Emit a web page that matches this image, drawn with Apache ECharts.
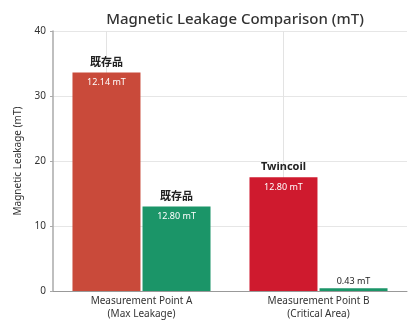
<!DOCTYPE html>
<html>
<head>
<meta charset="utf-8">
<script src="https://cdn.jsdelivr.net/npm/echarts@6/dist/echarts.min.js"></script>
<style>html,body{margin:0;padding:0;background:#fff}#c{width:408px;height:322px}</style>
</head>
<body>
<div id="c"></div>
<script>
const categories = ["Measurement Point A\n(Max Leakage)", "Measurement Point B\n(Critical Area)"];
const firstValues = [33.6, 17.5];
const secondValues = [13.0, 0.43];
const firstNames = ["既存品", "Twincoil"];
const secondNames = ["既存品", ""];
const firstValueText = ["12.14 mT", "12.80 mT"];
const secondValueText = ["12.80 mT", "0.43 mT"];
const firstColors = ["#c94a3a", "#cf1a2e"];
const secondColors = ["#1b9568", "#1b9568"];
const yTicks = [0, 10, 20, 30, 40];

const FONT = "'Noto Sans', 'Noto Sans CJK JP', sans-serif";

function insideLabel(name, text) {
  return {
    show: true, position: 'insideTop', distance: 0, offset: [0, -20],
    formatter: '{n|' + name + '}\n{v|' + text + '}',
    rich: {
      n: { fontFamily: FONT, fontSize: 11, fontWeight: 'bold', color: '#222', lineHeight: 20 },
      v: { fontFamily: FONT, fontSize: 9, color: '#ffffff', lineHeight: 20 }
    }
  };
}
function topLabel(text) {
  return { show: true, position: 'top', distance: 2, formatter: text,
    fontFamily: FONT, fontSize: 9, color: '#222' };
}

const chart = echarts.init(document.getElementById('c'));
chart.setOption({
  animation: false,
  backgroundColor: '#fff',
  textStyle: { fontFamily: FONT },
  title: {
    text: 'Magnetic Leakage Comparison (mT)',
    left: 230, top: 7, textAlign: 'center',
    textStyle: { fontFamily: FONT, fontSize: 15, fontWeight: 500, color: '#333' }
  },
  grid: { left: 53, right: 1, top: 31, bottom: 31, containLabel: false },
  xAxis: {
    type: 'category', data: categories,
    axisLine: { show: true, lineStyle: { color: '#999', width: 1 } },
    axisTick: { show: false },
    splitLine: { show: false },
    axisLabel: { fontFamily: FONT, fontSize: 10, color: '#333', lineHeight: 13, margin: 4, interval: 0 }
  },
  yAxis: {
    type: 'value', min: yTicks[0], max: yTicks[yTicks.length - 1], interval: 10,
    name: 'Magnetic Leakage (mT)', nameLocation: 'middle', nameGap: 30, nameRotate: 90,
    nameTextStyle: { fontFamily: FONT, fontSize: 10, color: '#333' },
    axisLine: { show: true, lineStyle: { color: '#aaa', width: 1.5 } },
    axisTick: { show: true, length: 3, lineStyle: { color: '#aaa' } },
    axisLabel: { fontFamily: FONT, fontSize: 10, color: '#333', margin: 7 },
    splitLine: { show: true, lineStyle: { color: '#e6e6e6', width: 1 } }
  },
  series: [
    {
      type: 'bar', barWidth: 68, barGap: '3%',
      data: firstValues.map((v, i) => ({
        value: v,
        itemStyle: { color: firstColors[i] },
        label: insideLabel(firstNames[i], firstValueText[i])
      })),
      markLine: {
        silent: true, symbol: 'none', z: 1,
        label: { show: false },
        lineStyle: { color: '#e3e3e3', type: 'solid', width: 1 },
        data: categories.map((c, i) => ({ xAxis: i }))
      }
    },
    {
      type: 'bar', barWidth: 68, barGap: '3%',
      data: secondValues.map((v, i) => ({
        value: v,
        itemStyle: { color: secondColors[i] },
        label: secondNames[i] ? insideLabel(secondNames[i], secondValueText[i]) : topLabel(secondValueText[i])
      }))
    }
  ]
});
</script>
</body>
</html>
